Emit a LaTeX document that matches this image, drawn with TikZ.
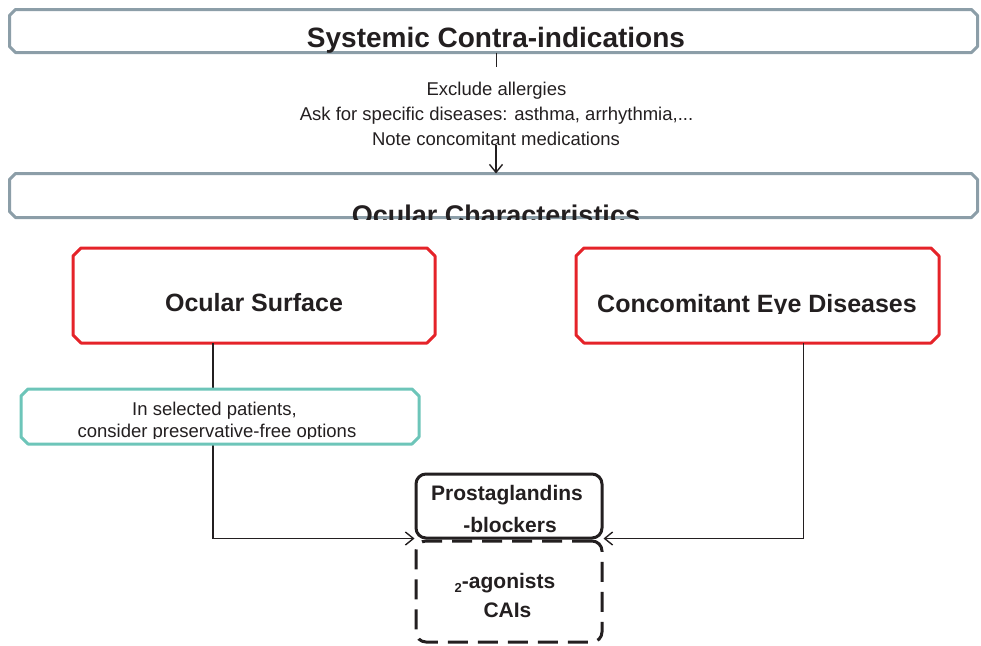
\documentclass[tikz,border=0pt]{standalone}
\usepackage{fontspec}
\setmainfont{Liberation Sans}
\usetikzlibrary{arrows.meta}
\definecolor{boxgrey}{HTML}{8C9EA8}
\definecolor{boxred}{HTML}{E52329}
\definecolor{boxteal}{HTML}{6DC5B9}
\definecolor{ink}{HTML}{231F20}
% outline of a node's frame with cut-off corners
\newcommand\chamferbox[2]{([xshift=#2]#1.north west) -- ([xshift=-#2]#1.north east)
  -- ([yshift=-#2]#1.north east) -- ([yshift=#2]#1.south east)
  -- ([xshift=-#2]#1.south east) -- ([xshift=#2]#1.south west)
  -- ([yshift=#2]#1.south west) -- ([yshift=-#2]#1.north west) -- cycle}
\begin{document}
\begin{tikzpicture}[x=1pt,y=-1pt,
  frame/.style={rectangle, draw=none, inner sep=0pt, outer sep=0pt},
  greyline/.style={draw=boxgrey, fill=white, line width=3pt, line join=round},
  redline/.style={greyline, draw=boxred},
  tealline/.style={greyline, draw=boxteal},
  drugbox/.style={rectangle, rounded corners=10pt, draw=ink,
    line width=3pt, fill=white, inner sep=0pt},
  dashbox/.style={drugbox, dash pattern=on 20pt off 10pt},
  conn/.style={draw=ink, line width=1.4pt},
  arr/.style={conn, -{Straight Barb[length=8pt,width=13pt,line width=1.4pt]}},
  txt/.style={text=ink, inner sep=0pt, anchor=base},
  titletxt/.style={txt, font=\fontsize{28}{30}\selectfont\bfseries},
  headtxt/.style={txt, font=\fontsize{25}{28}\selectfont\bfseries},
  drugtxt/.style={txt, font=\fontsize{21}{24}\selectfont\bfseries},
  notetxt/.style={txt, font=\fontsize{18.5}{22}\selectfont},
]
\useasboundingbox (0,0) rectangle (981,645);

% notes between the two top panels
\node[notetxt] (n1) at (496.5,95) {Exclude allergies};
\node[notetxt] (n2) at (496.5,120) {Ask for specific diseases: asthma, arrhythmia,...};
\node[notetxt] (n3) at (496,145) {Note concomitant medications};

% panel frames
\node[frame, minimum width=968pt, minimum height=43pt] (top) at (493.5,31) {};
\node[frame, minimum width=968pt, minimum height=44pt] (mid) at (493.5,195.5) {};
\filldraw[greyline] \chamferbox{top}{6pt};
\filldraw[greyline] \chamferbox{mid}{6pt};

% connectors from the top panel
\draw[conn] (n1.north |- top.south) -- ([yshift=14pt]n1.north);
\draw[arr] (n3.base) -- (n3.base |- mid.north);

% branch frames and the drug boxes
\node[frame, minimum width=362pt, minimum height=95pt] (os) at (254,295.5) {};
\node[frame, minimum width=363pt, minimum height=95pt] (ced) at (757.5,295.5) {};
\filldraw[redline] \chamferbox{os}{8pt};
\filldraw[redline] \chamferbox{ced}{8pt};

\node[drugbox, minimum width=186pt, minimum height=64pt] (pg) at (509,506) {};
\node[dashbox, minimum width=186pt, minimum height=101pt] (oth) at (509,591.5) {};

\draw[arr] ([xshift=-41pt]os.south) |- ([yshift=1pt]pg.south west);
\draw[arr] ([xshift=46pt]ced.south) |- ([yshift=1pt]pg.south east);

\node[frame, minimum width=398pt, minimum height=55pt] (pf) at (220,416.5) {};
\filldraw[tealline] \chamferbox{pf}{7pt};

% texts
\node[titletxt] (t1) at (496,47) {Systemic Contra-indications};
\begin{scope}
  \clip (0,150) rectangle (981,219.5);
  \node[titletxt, font=\fontsize{27}{30}\selectfont\bfseries] (t2) at (496,224.5) {Ocular Characteristics};
\end{scope}
\node[headtxt] (t3) at (254,311) {Ocular Surface};
\begin{scope}
  \clip (560,260) rectangle (960,313.5);
  \node[headtxt] (t4) at (757,312) {Concomitant Eye Diseases};
\end{scope}
\node[notetxt] (t5) at (214.5,415) {In selected patients,};
\begin{scope}
  \clip (20,420) rectangle (420,438);
  \node[notetxt] (t6) at (217,437.5) {consider preservative-free options};
\end{scope}
\node[drugtxt] (t7) at (507,500) {Prostaglandins};
\node[drugtxt] (t8) at (510,532) {-blockers};
\node[drugtxt] (t9) at (505,588) {\raisebox{-4pt}{\fontsize{13}{14}\selectfont 2}-agonists};
\node[drugtxt] (t10) at (507.5,617) {CAIs};
\end{tikzpicture}
\end{document}
